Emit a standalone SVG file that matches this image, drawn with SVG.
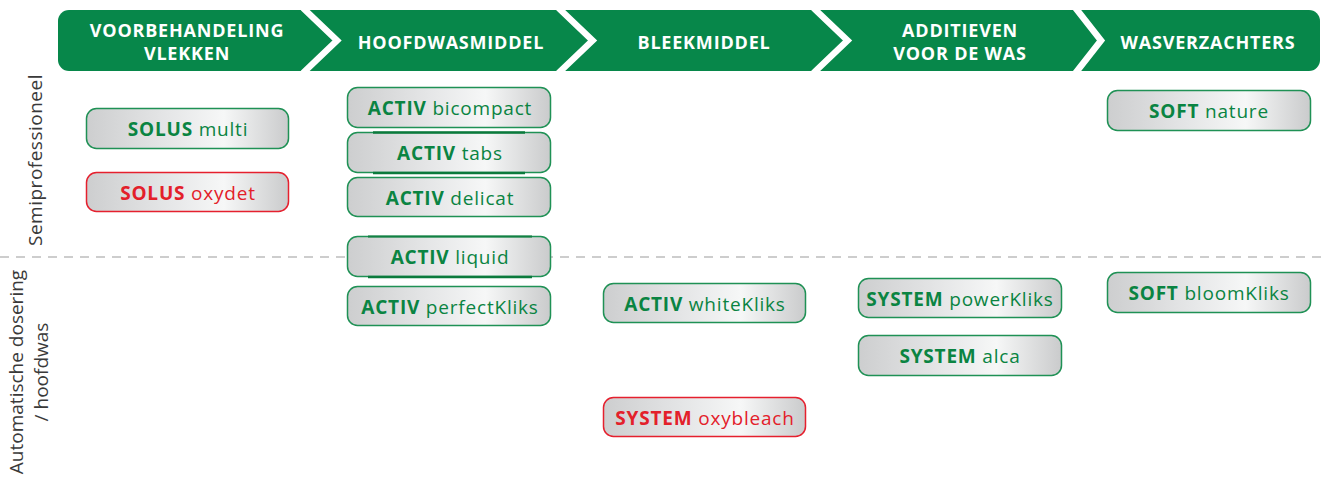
<svg xmlns="http://www.w3.org/2000/svg" width="1325" height="483" viewBox="0 0 1325 483">
<defs>
<linearGradient id="gr" x1="0" y1="0" x2="1" y2="0">
<stop offset="0" stop-color="#cdcecf"/>
<stop offset="0.4" stop-color="#e5e6e7"/>
<stop offset="0.68" stop-color="#f6f7f7"/>
<stop offset="1" stop-color="#cacbcc"/>
</linearGradient>
<style>
.hd{font-family:"Open Sans","Liberation Sans",sans-serif;font-weight:700;font-size:18px;fill:#fff;letter-spacing:0.8px;text-anchor:middle}
.chev{fill:none;stroke:#fff;stroke-width:6.5;stroke-linejoin:miter;stroke-miterlimit:10}
.box{fill:url(#gr);stroke-width:1.5}
.g .box{stroke:#1f9155}
.r .box{stroke:#e5202e}
.t{font-family:"Open Sans","Liberation Sans",sans-serif;font-size:19px;letter-spacing:0.8px;text-anchor:middle}
.g .t{fill:#0a8442}
.r .t{fill:#e3202a}
.b{font-weight:700}
.side{font-family:"Open Sans","Liberation Sans",sans-serif;font-size:19px;fill:#3a3a3a;text-anchor:middle}
.thick{stroke:#0b7a3c;stroke-width:2.5}
</style>
</defs>
<rect width="1325" height="483" fill="#fff"/>

<g id="banner">
<rect x="58" y="10" width="1262" height="61" rx="11" fill="#07874a"/>
<polyline class="chev" points="303,8 337,40.5 303,73"/>
<polyline class="chev" points="558.5,8 592.5,40.5 558.5,73"/>
<polyline class="chev" points="813.5,8 847.5,40.5 813.5,73"/>
<polyline class="chev" points="1075.5,8 1101,40.5 1075.5,73"/>
<text class="hd" x="187" y="37">VOORBEHANDELING</text>
<text class="hd" x="187" y="60">VLEKKEN</text>
<text class="hd" x="451" y="49">HOOFDWASMIDDEL</text>
<text class="hd" x="704" y="49">BLEEKMIDDEL</text>
<text class="hd" x="960" y="37">ADDITIEVEN</text>
<text class="hd" x="960" y="60">VOOR DE WAS</text>
<text class="hd" x="1208" y="49">WASVERZACHTERS</text>
</g>

<g id="connectors">
<line x1="0" y1="257" x2="1325" y2="257" stroke="#9c9c9c" stroke-width="1.2" stroke-dasharray="9,7"/>
</g>

<g id="labels">
<text class="side" transform="translate(42,160) rotate(-90)" letter-spacing="0.5">Semiprofessioneel</text>
<text class="side" transform="translate(23,372) rotate(-90)">Automatische dosering</text>
<text class="side" transform="translate(48,372) rotate(-90)">/ hoofdwas</text>
</g>

<g id="solus-multi" class="g"><rect class="box" x="86.5" y="108.5" width="202" height="40" rx="10"/><text class="t" x="188" y="136"><tspan class="b">SOLUS</tspan> multi</text></g>
<g id="solus-oxydet" class="r"><rect class="box" x="86.5" y="172.5" width="202" height="39" rx="10"/><text class="t" x="188" y="199.5"><tspan class="b">SOLUS</tspan> oxydet</text></g>

<g id="activ-bicompact" class="g"><rect class="box" x="347.5" y="87.5" width="203" height="40" rx="10"/><text class="t" x="450" y="115"><tspan class="b">ACTIV</tspan> bicompact</text></g>
<g id="activ-tabs" class="g"><rect class="box" x="347.5" y="132.5" width="203" height="40" rx="10"/><line class="thick" x1="373" y1="132.5" x2="525" y2="132.5"/><line class="thick" x1="373" y1="173" x2="525" y2="173"/><text class="t" x="450" y="160"><tspan class="b">ACTIV</tspan> tabs</text></g>
<g id="activ-delicat" class="g"><rect class="box" x="347.5" y="177.5" width="203" height="39" rx="10"/><text class="t" x="450" y="204.5"><tspan class="b">ACTIV</tspan> delicat</text></g>
<g id="activ-liquid" class="g"><rect class="box" x="347.5" y="236.5" width="203" height="40" rx="10"/><line class="thick" x1="368" y1="236.5" x2="532" y2="236.5" stroke-opacity="0.7"/><line class="thick" x1="368" y1="277" x2="532" y2="277"/><text class="t" x="450" y="264"><tspan class="b">ACTIV</tspan> liquid</text></g>
<g id="activ-perfectkliks" class="g"><rect class="box" x="347.5" y="286.5" width="203" height="39" rx="10"/><text class="t" x="450" y="313.5"><tspan class="b">ACTIV</tspan> perfectKliks</text></g>

<g id="activ-whitekliks" class="g"><rect class="box" x="603.5" y="283.5" width="202" height="39" rx="10"/><text class="t" x="705" y="310.5"><tspan class="b">ACTIV</tspan> whiteKliks</text></g>
<g id="system-oxybleach" class="r"><rect class="box" x="603.5" y="397.5" width="202" height="39" rx="10"/><text class="t" x="705" y="424.5"><tspan class="b">SYSTEM</tspan> oxybleach</text></g>

<g id="system-powerkliks" class="g"><rect class="box" x="858.5" y="278.5" width="203" height="39" rx="10"/><text class="t" x="960" y="305.5"><tspan class="b">SYSTEM</tspan> powerKliks</text></g>
<g id="system-alca" class="g"><rect class="box" x="858.5" y="335.5" width="203" height="40" rx="10"/><text class="t" x="960" y="363"><tspan class="b">SYSTEM</tspan> alca</text></g>

<g id="soft-nature" class="g"><rect class="box" x="1107.5" y="90.5" width="203" height="40" rx="10"/><text class="t" x="1209" y="118"><tspan class="b">SOFT</tspan> nature</text></g>
<g id="soft-bloomkliks" class="g"><rect class="box" x="1107.5" y="272.5" width="203" height="40" rx="10"/><text class="t" x="1209" y="300"><tspan class="b">SOFT</tspan> bloomKliks</text></g>
</svg>
